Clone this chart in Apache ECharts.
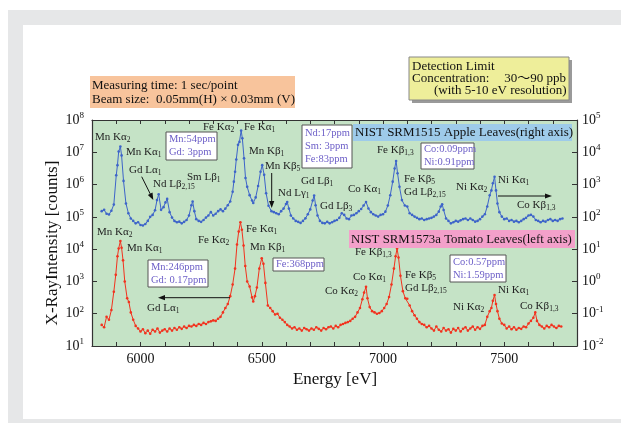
<!DOCTYPE html>
<html><head><meta charset="utf-8">
<script src="https://cdn.jsdelivr.net/npm/echarts@6/dist/echarts.min.js"></script>
<style>
html,body{margin:0;padding:0;background:#fff;}
#g{position:absolute;left:8px;top:10px;width:613px;height:413px;background:#e6e7e8;}
#w{position:absolute;left:23px;top:25px;width:598px;height:394px;background:#fff;}
#c{position:absolute;left:0;top:0;width:621px;height:423px;}
</style></head>
<body><div id="g"></div><div id="w"></div><div id="c"></div>
<script>
// ---- data ----
const blueEnergy = [
5840,5850,5860,5870,5880,5890,5900,5905,5910,5917,
5922,5930,5940,5950,5960,5970,5980,5990,6000,6010,
6020,6030,6040,6050,6060,6068,6075,6085,6095,6103,
6110,6120,6130,6140,6150,6160,6170,6180,6190,6200,
6210,6215,6222,6230,6240,6250,6260,6270,6280,6290,
6300,6310,6320,6330,6340,6350,6360,6370,6380,6385,
6390,6395,6402,6408,6415,6420,6427,6433,6440,6450,
6460,6465,6475,6485,6495,6502,6510,6518,6528,6540,
6550,6560,6570,6580,6590,6600,6605,6612,6620,6630,
6640,6650,6660,6670,6680,6690,6700,6710,6716,6722,
6730,6740,6750,6760,6770,6780,6790,6800,6810,6820,
6830,6840,6850,6860,6870,6880,6890,6900,6910,6920,
6930,6940,6950,6960,6970,6980,6990,7000,7010,7020,
7030,7040,7048,7054,7060,7068,7078,7090,7100,7110,
7120,7130,7140,7150,7160,7170,7180,7190,7200,7210,
7220,7230,7238,7244,7250,7260,7270,7280,7290,7300,
7310,7320,7330,7340,7350,7360,7370,7380,7390,7400,
7410,7420,7430,7440,7447,7453,7460,7466,7472,7480,
7490,7500,7510,7520,7530,7540,7550,7560,7570,7580,
7590,7600,7610,7620,7630,7640,7650,7660,7670,7680,
7690,7700,7710,7720,7730,7740];
const blueCounts = [
150,165,125,118,155,240,1950,4000,10500,15000,
8000,1300,260,130,89,75,63,68,56,54,
60,75,100,115,160,330,500,165,200,280,
360,140,95,75,68,71,63,70,80,110,
230,300,150,85,75,70,80,95,110,140,
110,125,150,170,150,180,230,300,600,1230,
2500,6000,17000,21000,47000,27000,6500,1600,850,470,
320,270,400,900,2500,4000,2000,540,220,150,
140,130,120,150,180,250,290,180,110,89,
75,70,65,75,90,120,170,320,460,230,
110,75,65,63,70,63,68,75,80,93,
129,115,89,85,110,115,129,150,175,225,
290,182,140,120,110,102,115,120,145,225,
468,1230,3160,5400,2240,850,330,225,210,129,
115,102,93,85,89,80,85,89,93,102,
115,145,210,245,163,89,75,63,68,75,
71,78,85,89,80,89,80,71,75,85,
102,120,210,468,660,1100,1740,660,260,140,
102,85,89,75,80,71,75,68,75,85,
93,110,115,102,80,75,68,75,71,80,
85,75,80,75,85,89];
const redEnergy = [
5840,5850,5860,5870,5880,5890,5898,5905,5910,5917,
5922,5928,5935,5945,5952,5960,5970,5980,5990,6000,
6010,6020,6030,6040,6050,6060,6070,6080,6090,6100,
6110,6120,6130,6140,6150,6160,6170,6180,6190,6200,
6210,6220,6230,6240,6250,6260,6270,6280,6290,6300,
6310,6320,6330,6340,6350,6360,6370,6380,6390,6398,
6405,6412,6418,6425,6432,6440,6450,6460,6465,6472,
6480,6490,6500,6507,6515,6525,6535,6545,6555,6565,
6575,6585,6595,6605,6615,6625,6635,6645,6655,6665,
6675,6685,6695,6705,6715,6725,6735,6745,6755,6765,
6775,6785,6795,6805,6815,6825,6835,6845,6855,6865,
6875,6885,6895,6905,6915,6922,6930,6936,6945,6955,
6965,6975,6985,6995,7005,7015,7025,7035,7045,7052,
7058,7064,7072,7082,7092,7100,7110,7120,7130,7140,
7150,7160,7170,7180,7190,7200,7210,7220,7230,7240,
7250,7260,7270,7280,7290,7300,7310,7320,7330,7340,
7350,7360,7370,7380,7390,7400,7410,7420,7430,7440,
7447,7453,7460,7466,7472,7480,7490,7500,7510,7520,
7530,7540,7550,7560,7570,7580,7590,7600,7610,7620,
7628,7635,7645,7655,7665,7675,7685,7695,7705,7715,
7725,7735];
const redCounts = [
45,38,80,65,130,480,1600,6000,10500,17800,
11000,4500,1000,300,230,110,65,42,35,28,
33,25,30,24,32,28,35,26,30,33,
28,35,30,36,32,38,34,40,36,42,
40,45,42,48,45,52,48,55,58,62,
60,70,80,110,150,200,350,800,2500,14000,
35000,68000,40000,13000,3000,1000,700,320,240,350,
650,2500,5250,3500,900,180,150,120,95,100,
75,65,55,45,40,35,38,32,35,30,
36,33,30,35,32,38,34,30,36,33,
38,40,35,42,38,45,48,52,55,60,
70,80,110,150,280,450,680,300,160,120,
110,100,105,120,150,200,330,800,2500,6000,
10500,5500,1500,500,300,290,180,120,90,70,
55,48,45,38,42,35,30,40,32,28,
36,30,33,26,34,30,36,28,34,38,
30,35,40,32,38,34,42,45,80,120,
150,250,380,200,120,70,50,45,35,40,
33,38,32,36,34,40,38,50,60,75,
110,60,45,40,35,42,38,45,40,36,
42,40];
const xTickValues = [5900,6000,6100,6200,6300,6400,6500,6600,6700,6800,6900,7000,7100,7200,7300,7400,7500,7600,7700];
const xLabelValues = [6000,6500,7000,7500];

const SERIF = '"Liberation Serif","Times New Roman",serif';
const chart = echarts.init(document.getElementById('c'), null, {renderer:'canvas'});

function supLabel(v){ const e = Math.round(Math.log10(v)); return '{b|10}{s|' + e + '}'; }
const axRich = {
  b:{fontFamily:SERIF,fontSize:14,color:'#111',lineHeight:18,verticalAlign:'middle'},
  s:{fontFamily:SERIF,fontSize:9,color:'#111',lineHeight:9,verticalAlign:'top'}
};
const axLine = {show:true,lineStyle:{color:'#333',width:1.2}};

// ---- annotations ----
const G = [];
function peak(x,y,main,sub){
  G.push({type:'text',z:100,style:{x:x,y:y,text:'{m|'+main+'}{s|'+sub+'}',verticalAlign:'middle',
    rich:{m:{fontFamily:SERIF,fontSize:11,fill:'#222',lineHeight:14,verticalAlign:'middle'},
          s:{fontFamily:SERIF,fontSize:7.5,fill:'#222',lineHeight:7,verticalAlign:'bottom'}}}});
}
function box(x,y,w,h,lines){
  G.push({type:'rect',z:100,shape:{x:x,y:y,width:w,height:h},style:{fill:'#fff',stroke:'#555',lineWidth:1}});
  G.push({type:'text',z:101,style:{x:x+3,y:y+h/2,text:lines.join('\n'),verticalAlign:'middle',
    fontFamily:SERIF,fontSize:10.5,lineHeight:13,fill:'#6e60c8'}});
}
function arrow(x1,y1,x2,y2){
  const a=Math.atan2(y2-y1,x2-x1), L=7, W=2.6, c=Math.cos(a), s=Math.sin(a);
  G.push({type:'line',z:100,shape:{x1:x1,y1:y1,x2:x2-L*c*0.7,y2:y2-L*s*0.7},style:{stroke:'#111',lineWidth:1}});
  G.push({type:'polygon',z:100,shape:{points:[[x2,y2],[x2-L*c+W*s,y2-L*s-W*c],[x2-L*c-W*s,y2-L*s+W*c]]},style:{fill:'#111'}});
}
function textAt(x,y,t,size,opts){
  G.push({type:'text',z:101,style:Object.assign({x:x,y:y,text:t,fontFamily:SERIF,fontSize:size,fill:'#111',verticalAlign:'middle'},opts||{})});
}
// header boxes
G.push({type:'rect',z:100,shape:{x:90,y:76,width:205,height:32},style:{fill:'#f8c49c'}});
textAt(92,86,'Measuring time: 1 sec/point',13);
textAt(92,100,'Beam size:  0.05mm(H) \u00d7 0.03mm (V)',13);
G.push({type:'rect',z:99,shape:{x:412,y:60,width:160,height:43},style:{fill:'#9a9a9a'}});
G.push({type:'rect',z:100,shape:{x:409,y:57,width:160,height:43},style:{fill:'#eeee9a',stroke:'#888',lineWidth:1}});
textAt(412,67,'Detection Limit',13);
textAt(412,79,'Concentration:',13);
textAt(566,79,'30\uff5e90 ppb',13,{align:'right',fontFamily:SERIF+',"Noto Sans CJK JP"'});
textAt(434,91,'(with 5-10 eV resolution)',13);
// series labels
G.push({type:'rect',z:100,shape:{x:353,y:124,width:219,height:17},style:{fill:'#9ecbea'}});
textAt(355,133,'NIST SRM1515 Apple Leaves(right axis)',13);
G.push({type:'rect',z:100,shape:{x:349,y:230,width:226,height:18},style:{fill:'#f3a0ca'}});
textAt(351,239.5,'NIST SRM1573a Tomato Leaves(left axis)',12.8);
// concentration boxes
box(166,132,51,28,['Mn:54ppm','Gd: 3ppm']);
box(302,125,50,43,['Nd:17ppm','Sm: 3ppm','Fe:83ppm']);
box(421,143,53,26,['Co:0.09ppm','Ni:0.91ppm']);
box(148,260,60,27,['Mn:246ppm','Gd: 0.17ppm']);
box(273,258,51,13,['Fe:368ppm']);
box(450,255,56,27,['Co:0.57ppm','Ni:1.59ppm']);
// peak labels - apple (blue)
peak(95,137,'Mn K\u03b1','2'); peak(126,152,'Mn K\u03b1','1'); peak(129,170,'Gd L\u03b1','1');
peak(153,184,'Nd L\u03b2','2,15'); peak(187,177,'Sm L\u03b2','1'); peak(203,127,'Fe K\u03b1','2');
peak(244,127,'Fe K\u03b1','1'); peak(249,151,'Mn K\u03b2','1'); peak(265,166,'Mn K\u03b2','5');
peak(278,193,'Nd L\u03b3','1'); peak(301,181,'Gd L\u03b2','1'); peak(320,206,'Gd L\u03b2','3');
peak(348,189,'Co K\u03b1','1'); peak(377,150,'Fe K\u03b2','1,3'); peak(404,179,'Fe K\u03b2','5');
peak(404,192,'Gd L\u03b2','2,15'); peak(456,187,'Ni K\u03b1','2'); peak(498,180,'Ni K\u03b1','1');
peak(517,205,'Co K\u03b2','1,3');
// peak labels - tomato (red)
peak(97,232,'Mn K\u03b1','2'); peak(127,248,'Mn K\u03b1','1'); peak(198,240,'Fe K\u03b1','2');
peak(246,229,'Fe K\u03b1','1'); peak(250,247,'Mn K\u03b2','1'); peak(147,308,'Gd L\u03b1','1');
peak(355,252,'Fe K\u03b2','1,3'); peak(353,277,'Co K\u03b1','1'); peak(325,291,'Co K\u03b1','2');
peak(405,275,'Fe K\u03b2','5'); peak(405,288,'Gd L\u03b2','2,15'); peak(453,307,'Ni K\u03b1','2');
peak(498,290,'Ni K\u03b1','1'); peak(520,306,'Co K\u03b2','1,3');
// arrows
arrow(141.7,176.7,153.3,200);
arrow(271.7,173,271.7,208);
arrow(498,196,552,196);
arrow(230,297.7,158,297.7);
// axis titles
G.push({type:'text',z:101,x:53,y:243,rotation:Math.PI/2,style:{x:0,y:0,text:'X-RayIntensity [counts]',fontFamily:SERIF,fontSize:17,fill:'#111',align:'center',verticalAlign:'middle'}});
textAt(335,380,'Energy [eV]',17,{align:'center'});

chart.setOption({
  animation:false,
  grid:{left:92,top:120,right:44,bottom:77,show:true,backgroundColor:'#c5e3c6',borderWidth:0},
  xAxis:[
    {type:'value',min:5800,max:7800,position:'bottom',axisLine:axLine,splitLine:{show:false},
     axisTick:{show:true,inside:true,length:4,customValues:xTickValues,lineStyle:{color:'#333'}},
     axisLabel:{customValues:xLabelValues,formatter:v=>String(v),fontFamily:SERIF,fontSize:14,color:'#111',margin:6}},
    {type:'value',min:5800,max:7800,position:'top',axisLine:axLine,splitLine:{show:false},
     axisTick:{show:true,inside:true,length:4,customValues:xTickValues,lineStyle:{color:'#333'}},
     axisLabel:{show:false}}
  ],
  yAxis:[
    {type:'log',logBase:10,min:10,max:1e8,splitNumber:7,position:'left',axisLine:axLine,splitLine:{show:false},
     axisTick:{show:true,inside:true,length:5,lineStyle:{color:'#333'}},
     axisLabel:{formatter:supLabel,rich:axRich,margin:8}},
    {type:'log',logBase:10,min:0.01,max:1e5,splitNumber:7,position:'right',axisLine:axLine,splitLine:{show:false},
     axisTick:{show:true,inside:true,length:5,lineStyle:{color:'#333'}},
     axisLabel:{formatter:supLabel,rich:axRich,margin:5}}
  ],
  series:[
    {type:'line',name:'NIST SRM1515 Apple Leaves',xAxisIndex:0,yAxisIndex:1,
     data:blueEnergy.map((e,i)=>[e,blueCounts[i]]),symbol:'circle',symbolSize:2.6,showSymbol:true,
     lineStyle:{width:1,color:'#3d64c9'},itemStyle:{color:'#3d64c9'}},
    {type:'line',name:'NIST SRM1573a Tomato Leaves',xAxisIndex:0,yAxisIndex:0,
     data:redEnergy.map((e,i)=>[e,redCounts[i]]),symbol:'circle',symbolSize:2.6,showSymbol:true,
     lineStyle:{width:1,color:'#f2321e'},itemStyle:{color:'#f2321e'}}
  ],
  graphic:G
});
</script></body></html>
